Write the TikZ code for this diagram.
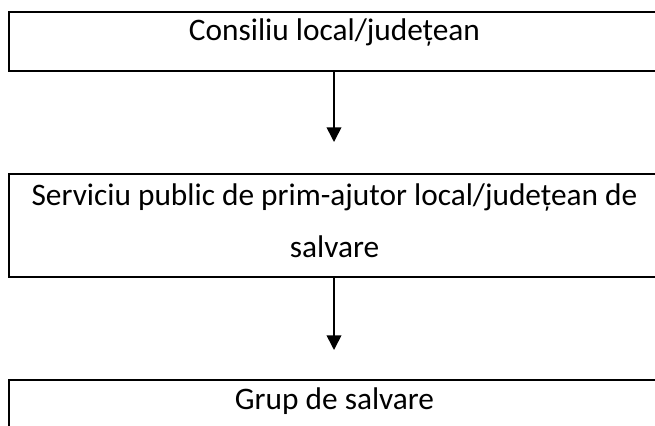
\documentclass[tikz,border=0pt]{standalone}
\usepackage{fontspec}
\setmainfont{Carlito}
\usetikzlibrary{arrows.meta}
\begin{document}
\begin{tikzpicture}[x=0.75pt,y=-0.75pt,
  box/.style={draw, line width=1.5pt, minimum width=488.25pt, inner sep=0pt},
  lbl/.style={font=\fontsize{23.5}{39}\selectfont, inner sep=0pt, align=center, anchor=base},
  conn/.style={line width=1.2pt, -{Triangle[width=11pt,length=11pt]}}]
\useasboundingbox (0,0) rectangle (655,425);
\clip (0,0) rectangle (655,425);
\node[box, minimum height=44.25pt] (b1) at (334.5,41.5) {};
\node[box, minimum height=77.25pt] (b2) at (334.5,225.5) {};
\node[box, minimum height=75pt] (b3) at (334.5,430) {};
\node[lbl] (t1) at (334.5,40) {Consiliu local/județean};
\node[lbl] (t2) at (334.5,257) {Serviciu public de prim-ajutor local/județean de\\salvare};
\node[lbl] (t3) at (334.5,409) {Grup de salvare};
\coordinate (e1) at (334,142);
\coordinate (e2) at (334,350);
\draw[conn] (b1.south -| e1) -- (e1);
\draw[conn] (b2.south -| e2) -- (e2);
\end{tikzpicture}
\end{document}
